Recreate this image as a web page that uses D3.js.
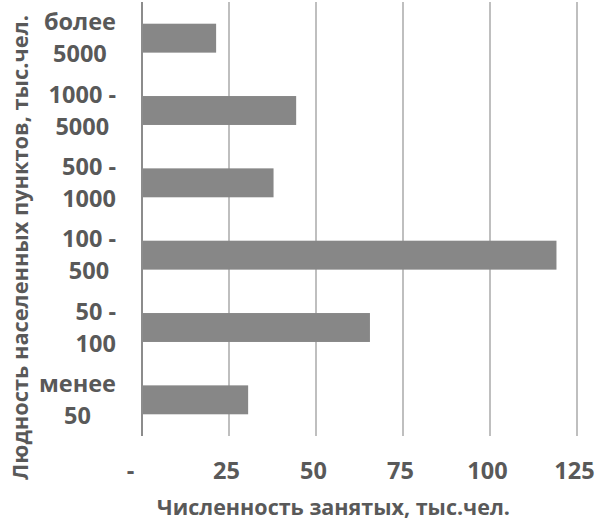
<!DOCTYPE html>
<html><head><meta charset="utf-8">
<script src="https://cdn.jsdelivr.net/npm/d3@7"></script>
<style>
body{margin:0;background:#fff;}
text{font-family:"Open Sans",sans-serif;font-weight:bold;fill:#595959;}
</style></head>
<body>
<svg id="chart" width="597" height="521"></svg>
<script>
const categories = [["более","5000"],["1000 -","5000"],["500 -","1000"],["100 -","500"],["50 -","100"],["менее","50"]];
const values = [21.3, 44.3, 37.8, 119.1, 65.5, 30.5];
const tickValues = [0, 25, 50, 75, 100, 125];
const xTitle = "Численность занятых, тыс.чел.";
const yTitle = "Людность населенных пунктов, тыс.чел.";

const svg = d3.select("#chart");
const m = {left:142, right:577, top:2, bottom:436};
const x = d3.scaleLinear().domain([0,125]).range([m.left, m.right]);
const y = d3.scaleBand().domain(d3.range(categories.length)).range([m.top, m.bottom]).paddingInner(0.6).paddingOuter(0.3);

// gridlines
svg.append("g").selectAll("line").data(tickValues.filter(d=>d>0)).join("line")
  .attr("x1",d=>x(d)).attr("x2",d=>x(d)).attr("y1",m.top).attr("y2",m.bottom)
  .attr("stroke","#bfbfbf").attr("stroke-width",2);

// bars
svg.append("g").selectAll("rect").data(values).join("rect")
  .attr("x",x(0)).attr("y",(d,i)=>y(i)).attr("width",d=>x(d)-x(0)).attr("height",y.bandwidth())
  .attr("fill","#878787");

// axis line
svg.append("line").attr("x1",x(0)).attr("x2",x(0)).attr("y1",m.top).attr("y2",m.bottom)
  .attr("stroke","#8c8c8c").attr("stroke-width",2);

// x tick labels via axis
const xAxis = d3.axisBottom(x).tickValues(tickValues).tickSize(0).tickPadding(0)
  .tickFormat(d=> d===0 ? "-" : d3.format("d")(d));
const gx = svg.append("g").attr("transform",`translate(0,479)`).call(xAxis);
gx.select(".domain").remove();
gx.selectAll("text").attr("dy",0).attr("y",0)
  .attr("dx",d=> d===0 ? -12 : -3)
  .style("font-size","23.5px").style("fill","#595959").style("font-family","'Open Sans',sans-serif").style("font-weight","bold");

// category labels
const labelRight = 116;
categories.forEach((lines,i)=>{
  const cy = y(i) + y.bandwidth()/2;
  const g = svg.append("g");
  const ts = lines.map((t,k)=> g.append("text").attr("y", cy + (k===0 ? -8 : 24))
     .attr("text-anchor","middle").style("font-size","23.5px").text(t));
  const w = d3.max(ts, t=>t.node().getComputedTextLength());
  ts.forEach(t=>t.attr("x", labelRight - w/2));
});

// titles, font sized to fit the reference width
function fit(sel, target){
  const base = 20;
  sel.style("font-size", base+"px");
  const w = sel.node().getComputedTextLength();
  sel.style("font-size", (base*target/w).toFixed(2)+"px");
}
const xt = svg.append("text").attr("x",333.5).attr("y",515).attr("text-anchor","middle").text(xTitle);
fit(xt, 353);
const yt = svg.append("text").attr("transform","translate(28,247.5) rotate(-90)").attr("text-anchor","middle").text(yTitle);
fit(yt, 465);
</script>
</body></html>
